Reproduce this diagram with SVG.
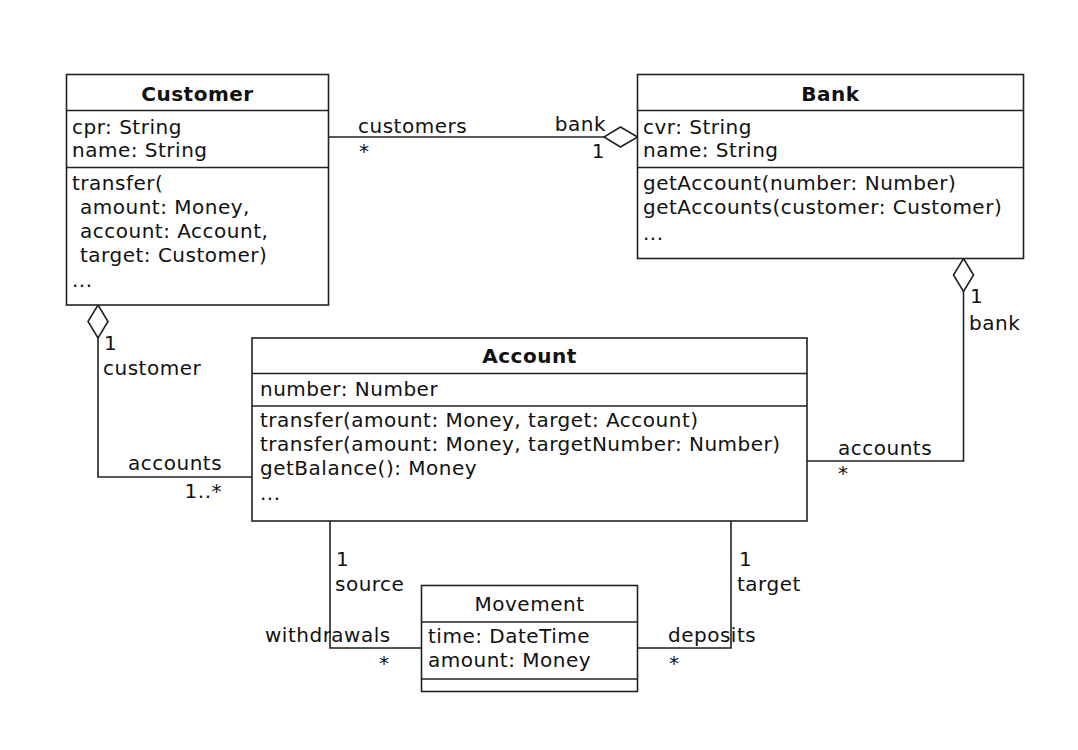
<svg xmlns="http://www.w3.org/2000/svg" width="1078" height="750" viewBox="0 0 1078 750">
<style>
.box{fill:#fff;stroke:#222;stroke-width:1.6}
.sep{stroke:#222;stroke-width:1.6}
.line{fill:none;stroke:#222;stroke-width:1.6}
.dia{fill:#fff;stroke:#222;stroke-width:1.6}
text{font-family:"DejaVu Sans","Liberation Sans",sans-serif;font-size:20px;fill:#111;letter-spacing:0.5px}
.title{font-weight:bold;text-anchor:middle}
.ctitle{text-anchor:middle}
.end{text-anchor:end}
</style>
<rect width="1078" height="750" fill="#fff"/>
<g id="connectors">
  <g id="customer-bank">
    <polyline class="line" points="328.5,137 604,137"/>
    <polygon class="dia" points="637.5,137 620.5,127 604,137 620.5,147"/>
    <text x="358" y="133">customers</text>
    <text x="359" y="158">*</text>
    <text class="end" x="606" y="131">bank</text>
    <text class="end" x="605" y="158">1</text>
  </g>
  <g id="customer-account">
    <polyline class="line" points="98,338 98,477 252,477"/>
    <polygon class="dia" points="98,305 108,321.5 98,338 88,321.5"/>
    <text x="104" y="350">1</text>
    <text x="103" y="375">customer</text>
    <text x="128" y="470">accounts</text>
    <text class="end" x="222" y="498">1..*</text>
  </g>
  <g id="bank-account">
    <polyline class="line" points="963.5,291.5 963.5,461 807,461"/>
    <polygon class="dia" points="963.5,258.5 973.5,275 963.5,291.5 953.5,275"/>
    <text x="970" y="303">1</text>
    <text x="969" y="330">bank</text>
    <text x="838" y="455">accounts</text>
    <text x="838" y="480">*</text>
  </g>
  <g id="account-movement-source">
    <polyline class="line" points="330,521 330,648 421.5,648"/>
    <text x="336" y="566">1</text>
    <text x="335" y="591">source</text>
    <text x="265" y="642">withdrawals</text>
    <text x="379" y="670">*</text>
  </g>
  <g id="account-movement-target">
    <polyline class="line" points="731,521 731,648 637.5,648"/>
    <text x="739" y="566">1</text>
    <text x="737" y="591">target</text>
    <text x="668" y="642">deposits</text>
    <text x="669" y="670">*</text>
  </g>
</g>
<g id="Customer">
  <rect class="box" x="66.5" y="74.5" width="262" height="230.5"/>
  <line class="sep" x1="66.5" y1="110.5" x2="328.5" y2="110.5"/>
  <line class="sep" x1="66.5" y1="167.5" x2="328.5" y2="167.5"/>
  <text class="title" x="197.5" y="101">Customer</text>
  <text x="72" y="134">cpr: String</text>
  <text x="72" y="157">name: String</text>
  <text x="72" y="190">transfer(</text>
  <text x="80" y="214">amount: Money,</text>
  <text x="80" y="238">account: Account,</text>
  <text x="80" y="262">target: Customer)</text>
  <text x="72" y="287">...</text>
</g>
<g id="Bank">
  <rect class="box" x="637.5" y="74.5" width="386" height="184"/>
  <line class="sep" x1="637.5" y1="110.5" x2="1023.5" y2="110.5"/>
  <line class="sep" x1="637.5" y1="167.5" x2="1023.5" y2="167.5"/>
  <text class="title" x="830.5" y="101">Bank</text>
  <text x="643" y="134">cvr: String</text>
  <text x="643" y="157">name: String</text>
  <text x="643" y="190">getAccount(number: Number)</text>
  <text x="643" y="214">getAccounts(customer: Customer)</text>
  <text x="643" y="240">...</text>
</g>
<g id="Account">
  <rect class="box" x="252" y="338" width="555" height="183"/>
  <line class="sep" x1="252" y1="373.5" x2="807" y2="373.5"/>
  <line class="sep" x1="252" y1="406" x2="807" y2="406"/>
  <text class="title" x="529.5" y="363">Account</text>
  <text x="260" y="396">number: Number</text>
  <text x="260" y="427">transfer(amount: Money, target: Account)</text>
  <text x="260" y="451">transfer(amount: Money, targetNumber: Number)</text>
  <text x="260" y="475">getBalance(): Money</text>
  <text x="260" y="500">...</text>
</g>
<g id="Movement">
  <rect class="box" x="421.5" y="585.5" width="216" height="106"/>
  <line class="sep" x1="421.5" y1="622" x2="637.5" y2="622"/>
  <line class="sep" x1="421.5" y1="679" x2="637.5" y2="679"/>
  <text class="ctitle" x="529.5" y="611">Movement</text>
  <text x="428" y="643">time: DateTime</text>
  <text x="428" y="667">amount: Money</text>
</g>
</svg>
